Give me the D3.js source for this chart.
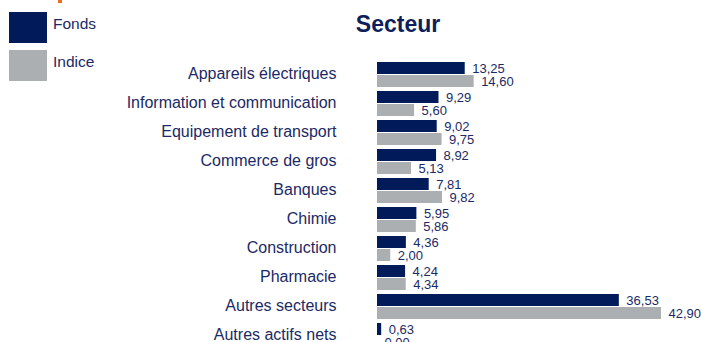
<!DOCTYPE html>
<html>
<head>
<meta charset="utf-8">
<script src="https://cdn.jsdelivr.net/npm/d3@7"></script>
<style>
  html, body { margin: 0; padding: 0; background: #ffffff; }
  svg { display: block; }
  text { font-family: "Liberation Sans", Arial, sans-serif; }
</style>
</head>
<body>
<script>
// Sector allocation: fund vs index (%)
const categories = [
  "Appareils électriques",
  "Information et communication",
  "Equipement de transport",
  "Commerce de gros",
  "Banques",
  "Chimie",
  "Construction",
  "Pharmacie",
  "Autres secteurs",
  "Autres actifs nets"
];
const fondsValues  = [13.25, 9.29, 9.02, 8.92, 7.81, 5.95, 4.36, 4.24, 36.53, 0.63];
const indiceValues = [14.60, 5.60, 9.75, 5.13, 9.82, 5.86, 2.00, 4.34, 42.90, 0.00];
const seriesNames  = ["Fonds", "Indice"];
const title = "Secteur";

const W = 701, H = 342;
const NAVY = "#001a5a", GREY = "#abafb2", TEXT = "#1b2a64", ORANGE = "#f26b1d";

const svg = d3.select("body").append("svg")
  .attr("width", W).attr("height", H);

// small accent from the page header above
svg.append("rect").attr("x", 58).attr("y", 0).attr("width", 4).attr("height", 3).attr("fill", ORANGE);

// Title
svg.append("text")
  .attr("x", 398).attr("y", 32)
  .attr("text-anchor", "middle")
  .attr("font-size", 23).attr("font-weight", "bold")
  .attr("fill", "#0f1f5c")
  .text(title);

// Legend
const legend = svg.append("g");
const colors = [NAVY, GREY];
seriesNames.forEach((name, i) => {
  legend.append("rect")
    .attr("x", 9).attr("y", 12 + i * 38)
    .attr("width", 38).attr("height", 31)
    .attr("fill", colors[i]);
  legend.append("text")
    .attr("x", 53).attr("y", 29.3 + i * 37.4)
    .attr("font-size", 15.5).attr("fill", TEXT)
    .text(name);
});

// Scales
const x = d3.scaleLinear().domain([0, 45]).range([377, 377 + 6.62 * 45]);
const y = d3.scaleBand().domain(categories).range([62, 62 + 29 * categories.length]).padding(0);
const barH = 12, gap = 1;

const rows = svg.append("g").selectAll("g")
  .data(categories.map((c, i) => ({ c, f: fondsValues[i], ix: indiceValues[i] })))
  .join("g")
  .attr("transform", d => `translate(0,${y(d.c)})`);

// Category labels
rows.append("text")
  .attr("x", 336.5).attr("y", 16.7)
  .attr("text-anchor", "end")
  .attr("font-size", 16).attr("fill", TEXT)
  .text(d => d.c);

// Bars
const fmt = v => v.toFixed(2).replace(".", ",");
const series = [
  { key: "f", color: NAVY, off: 0 },
  { key: "ix", color: GREY, off: barH + gap }
];
series.forEach(s => {
  rows.append("rect")
    .attr("x", x(0)).attr("y", s.off)
    .attr("width", d => x(d[s.key]) - x(0))
    .attr("height", barH)
    .attr("fill", s.color);
  rows.append("text")
    .attr("x", d => x(d[s.key]) + 7.5)
    .attr("y", s.off + 10.5)
    .attr("font-size", 13).attr("fill", TEXT)
    .text(d => fmt(d[s.key]));
});
</script>
</body>
</html>
